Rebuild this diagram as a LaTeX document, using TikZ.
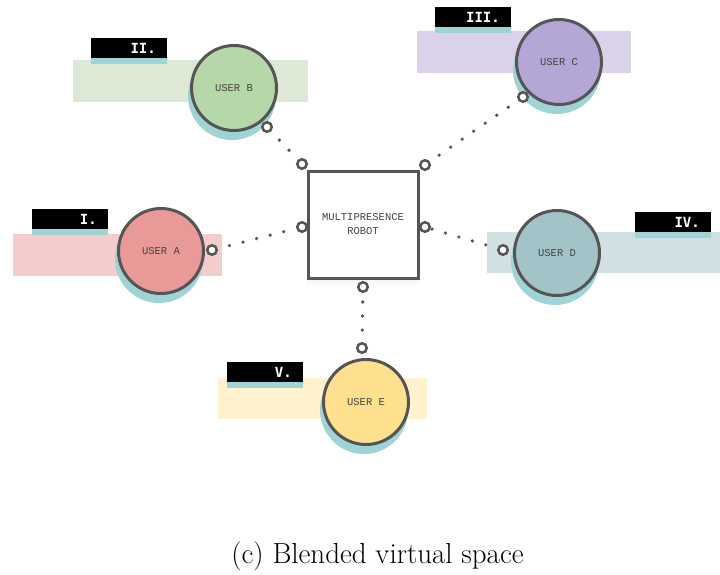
\documentclass[tikz,border=0pt]{standalone}
\usepackage{fontspec}
\newfontfamily\userfont{Liberation Mono}
\newfontfamily\tagfont{DejaVu Sans Mono}
\usetikzlibrary{calc}

\definecolor{edge}{HTML}{555555}
\definecolor{txt}{HTML}{444444}
\definecolor{shade}{HTML}{9FD3D6}
\definecolor{redfill}{HTML}{EA9999}
\definecolor{redband}{HTML}{F4CCCC}
\definecolor{greenfill}{HTML}{B6D7A8}
\definecolor{greenband}{HTML}{DDE9D5}
\definecolor{purplefill}{HTML}{B4A7D6}
\definecolor{purpleband}{HTML}{D9D2E9}
\definecolor{cyanfill}{HTML}{A2C4C9}
\definecolor{cyanband}{HTML}{D0E0E3}
\definecolor{yellowfill}{HTML}{FFE08F}
\definecolor{yellowband}{HTML}{FFF2CC}

\tikzset{
  band/.style={fill=#1, draw=none},
  tagbox/.style={fill=black, draw=none},
  tagshadow/.style={fill=shade, draw=none},
  tagtext/.style={anchor=east, text=white, inner sep=0pt,
    font=\tagfont\bfseries\fontsize{14}{16}\selectfont},
  usershadow/.style={circle, minimum size=88pt, inner sep=0pt, fill=shade, draw=none},
  user/.style={circle, minimum size=85pt, inner sep=0pt, line width=3pt,
    draw=edge, fill=#1, text=txt, font=\userfont\fontsize{10.5}{12}\selectfont},
  robotbox/.style={draw=edge, line width=3pt, fill=white},
  ring/.style={circle, minimum size=9.5pt, inner sep=0pt, line width=2.5pt,
    draw=edge, fill=white},
  conn/.style={draw=edge, line width=3.6pt, line cap=round,
    dash pattern=on 0pt off 14pt, dash phase=2pt},
}

\begin{document}
\begin{tikzpicture}[x=1pt, y=-1pt]
\useasboundingbox (0,0) rectangle (720,574);

% coloured bands behind each user
\fill[band=redband]    (13,234)  rectangle (222,276);
\fill[band=greenband]  (73,60)   rectangle (308,102);
\fill[band=purpleband] (417,31)  rectangle (631,73);
\fill[band=cyanband]   (487,232) rectangle (720,273);
\fill[band=yellowband] (218,378) rectangle (427,419);

% numbered tags with their teal under-strip
\foreach \x/\y/\lab/\nm in {32/209/I./tA, 91/38/II./tB, 435/7/III./tC,
                             635/212/IV./tD, 227/362/V./tE}{
  \fill[tagshadow] (\x,\y+6) rectangle (\x+76,\y+26);
  \fill[tagbox] (\x,\y) rectangle (\x+76,\y+20);
  \coordinate (\nm) at (\x+76,\y+10);
  \node[tagtext] at ($(\nm)+(-11,0)$) {\lab};
}

% users: teal shadow disc, then the coloured circle
\foreach \x/\y in {161/251, 234/88, 559/62, 557/253, 366/402}{
  \node[usershadow] at (\x-2,\y+8) {};
}
\node[user=redfill]    (A) at (161,251) {USER A};
\node[user=greenfill]  (B) at (234,88)  {USER B};
\node[user=purplefill] (C) at (559,62)  {USER C};
\node[user=cyanfill]   (D) at (557,253) {USER D};
\node[user=yellowfill] (E) at (366,402) {USER E};

% the robot
\fill[shade] (307,180) rectangle (419,287);
\draw[robotbox] (308,171) rectangle (418,278);
\node[text=txt, align=center, font=\userfont\fontsize{10.5}{14}\selectfont]
  (R) at (363,224.5) {MULTIPRESENCE\\ROBOT};

% ports on the users
\node[ring] (pA) at (212,250) {};
\node[ring] (pB) at (267,127) {};
\node[ring] (pC) at (523,97)  {};
\node[ring] (pD) at (503,250) {};
\node[ring] (pE) at (362,348) {};

% ports on the robot
\node[ring] (qA) at (302,227) {};
\node[ring] (qB) at (302,164) {};
\node[ring] (qC) at (425,165) {};
\node[ring] (qD) at (425,227) {};
\node[ring] (qE) at (363,287) {};

% dotted links
\draw[conn] (pA) -- (qA);
\draw[conn] (pB) -- (qB);
\draw[conn] (pC) -- (qC);
\draw[conn] (pD) -- (qD);
\draw[conn] (pE) -- (qE);

% caption
\node[font=\fontsize{29}{34}\selectfont, anchor=base, inner sep=0pt]
  (cap) at (377.5,563) {(c) Blended virtual space};
\end{tikzpicture}
\end{document}
